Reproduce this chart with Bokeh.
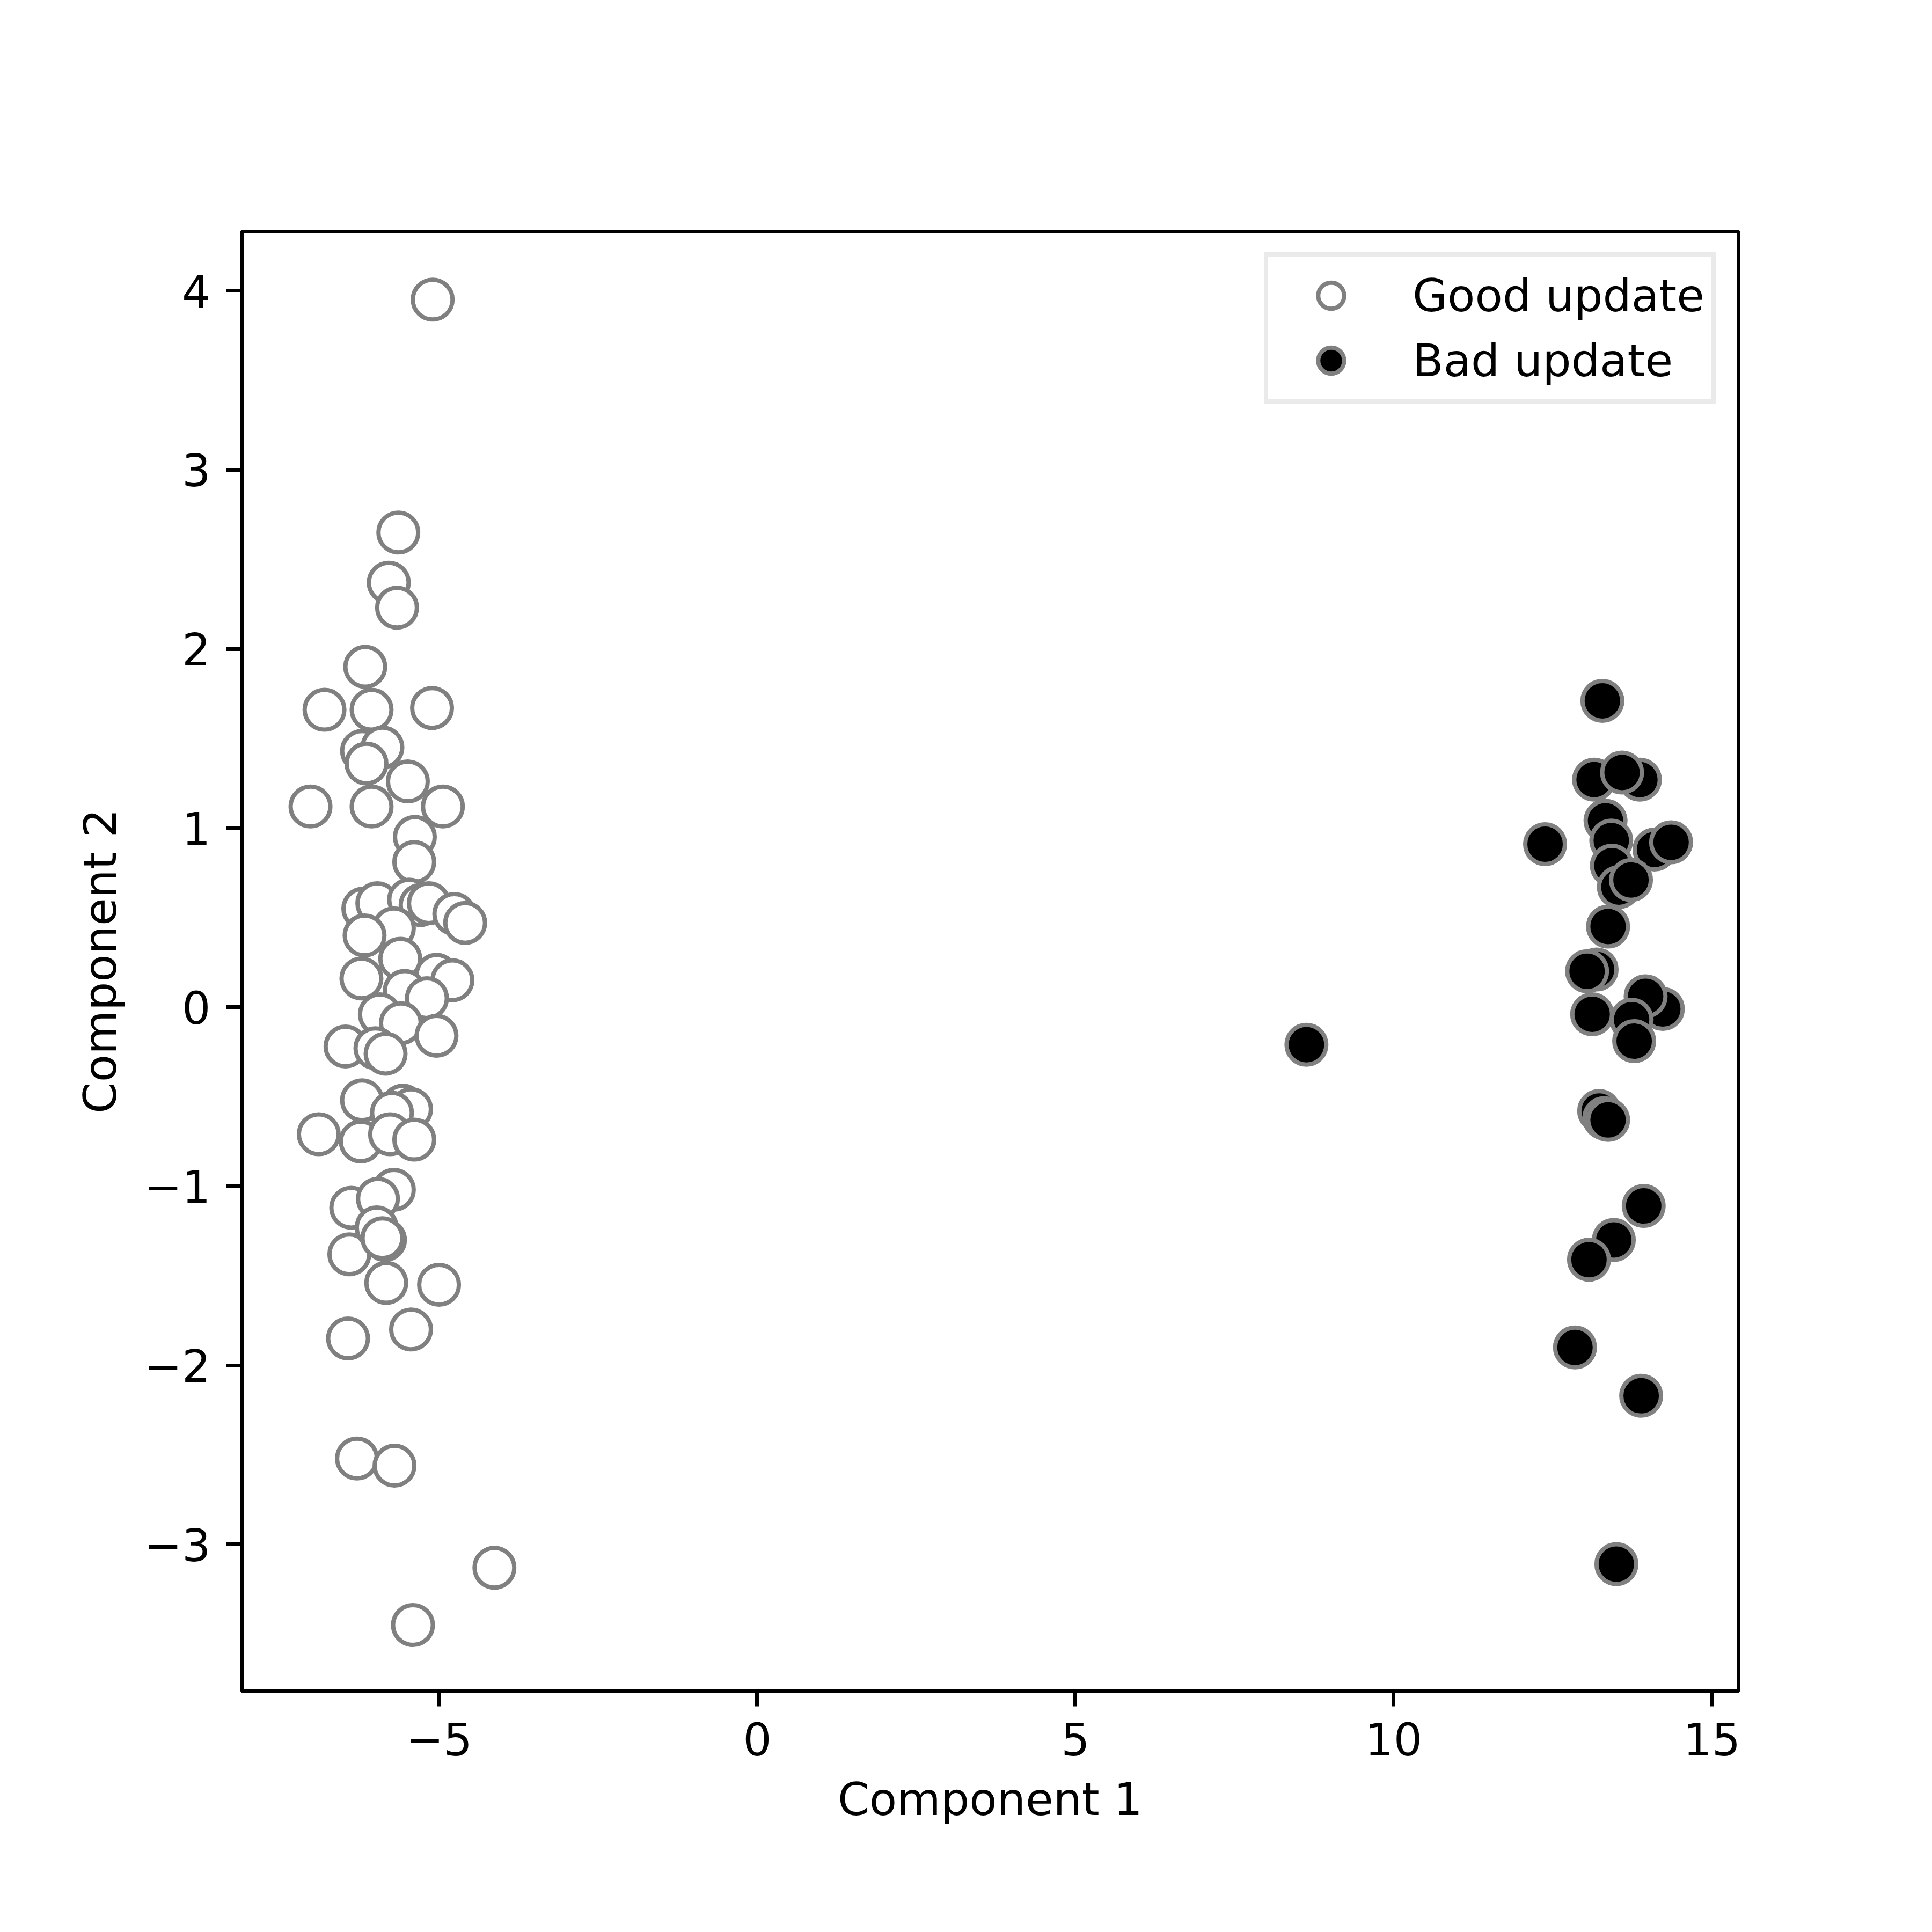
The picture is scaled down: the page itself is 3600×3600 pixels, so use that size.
from bokeh.plotting import figure
from bokeh.models import (ColumnDataSource, FixedTicker, CustomJSTickFormatter,
                          Legend, LegendItem, Range1d)
from bokeh.embed import file_html
from bokeh.resources import INLINE

# ---- data ----
good_x = [-5.10, -5.64, -5.79, -5.66, -6.16, -6.80, -6.06, -5.11, -6.21, -5.89,
          -6.14, -5.49, -7.02, -6.06, -4.94, -5.38, -5.39,
          -6.19, -5.97, -5.47, -5.29, -5.16, -4.76, -4.59, -5.71, -6.17,
          -5.61, -6.22, -5.04, -4.79, -5.54, -5.19, -5.93, -5.60, -5.04,
          -6.47, -6.00, -5.84, -6.21, -5.57, -5.44, -5.74, -6.89, -6.23,
          -5.77, -5.39, -5.71, -6.38, -5.96, -6.41, -5.98, -5.85, -5.89,
          -5.83, -5.00, -6.43, -5.44, -6.29, -5.70, -4.13, -5.41]
good_y = [3.95, 2.65, 2.37, 2.23, 1.90, 1.66, 1.66, 1.67, 1.43, 1.45,
          1.36, 1.26, 1.12, 1.12, 1.12, 0.95, 0.81,
          0.55, 0.58, 0.60, 0.57, 0.58, 0.52, 0.47, 0.44, 0.40,
          0.27, 0.16, 0.18, 0.15, 0.09, 0.05, -0.04, -0.09, -0.16,
          -0.22, -0.23, -0.26, -0.52, -0.55, -0.57, -0.59, -0.71, -0.75,
          -0.71, -0.74, -1.02, -1.12, -1.07, -1.38, -1.23, -1.30, -1.29,
          -1.54, -1.55, -1.85, -1.80, -2.52, -2.56, -3.13, -3.45]

bad_x = [13.28, 13.15, 13.87, 13.59, 12.38, 13.33, 13.42, 14.10, 14.36, 13.43,
         13.54, 13.73, 13.37, 13.19, 13.04, 13.12, 14.23, 13.96, 13.74, 13.78,
         13.23, 13.31, 13.37, 13.93, 13.46, 13.07, 12.85, 13.89, 13.50, 8.63]
bad_y = [1.71, 1.27, 1.27, 1.31, 0.91, 1.04, 0.93, 0.88, 0.92, 0.79,
         0.67, 0.71, 0.45, 0.21, 0.20, -0.04, -0.01, 0.06, -0.07, -0.19,
         -0.58, -0.62, -0.63, -1.11, -1.30, -1.41, -1.90, -2.17, -3.11, -0.21]

x_ticks = [-5, 0, 5, 10, 15]
y_ticks = [-3, -2, -1, 0, 1, 2, 3, 4]
x_label = "Component 1"
y_label = "Component 2"
series_names = ["Good update", "Bad update"]

FONT = "DejaVu Sans"
FS = "84px"

p = figure(width=3584, height=3584, output_backend="svg", toolbar_location=None,
           x_range=Range1d(-8.10, 15.42), y_range=Range1d(-3.817, 4.33),
           min_border_left=450, min_border_right=345,
           min_border_top=431, min_border_bottom=434)

p.background_fill_color = "white"
p.border_fill_color = "white"
p.grid.visible = False
p.outline_line_color = "black"
p.outline_line_width = 7

src_good = ColumnDataSource(dict(x=good_x, y=good_y))
src_bad = ColumnDataSource(dict(x=bad_x, y=bad_y))

r_good = p.scatter("x", "y", source=src_good, marker="circle", size=74,
                   fill_color="white", line_color="#808080", line_width=8)
r_bad = p.scatter("x", "y", source=src_bad, marker="circle", size=74,
                  fill_color="black", line_color="#808080", line_width=8)

fmt = CustomJSTickFormatter(code="""
    return (tick < 0 ? "\\u2212" : "") + Math.abs(tick).toString();
""")

for ax, ticks, lab in ((p.xaxis[0], x_ticks, x_label), (p.yaxis[0], y_ticks, y_label)):
    ax.ticker = FixedTicker(ticks=ticks)
    ax.formatter = fmt
    ax.axis_label = lab
    ax.axis_label_text_font = FONT
    ax.axis_label_text_font_size = FS
    ax.axis_label_text_font_style = "normal"
    ax.axis_label_text_color = "black"
    ax.major_label_text_font = FONT
    ax.major_label_text_font_size = FS
    ax.major_label_text_color = "black"
    ax.major_tick_out = 29
    ax.major_tick_in = 0
    ax.major_tick_line_width = 7
    ax.major_tick_line_color = "black"
    ax.minor_tick_line_color = None
    ax.axis_line_width = 7
    ax.axis_line_color = "black"
    ax.major_label_standoff = 29
    ax.axis_label_standoff = 30

legend = Legend(items=[LegendItem(label=series_names[0], renderers=[r_good]),
                       LegendItem(label=series_names[1], renderers=[r_bad])],
                location=(1905, 2398), orientation="vertical")
legend.label_text_font = FONT
legend.label_text_font_size = FS
legend.label_text_color = "black"
legend.glyph_height = 121
legend.glyph_width = 210
legend.label_height = 121
legend.label_width = 545
legend.label_standoff = 47
legend.spacing = 0
legend.padding = 12
legend.margin = 0
legend.border_line_color = "#d6d6d6"
legend.border_line_width = 8
legend.background_fill_color = "white"
legend.background_fill_alpha = 1.0
p.add_layout(legend)

open("out.html", "w").write(file_html(p, INLINE))
